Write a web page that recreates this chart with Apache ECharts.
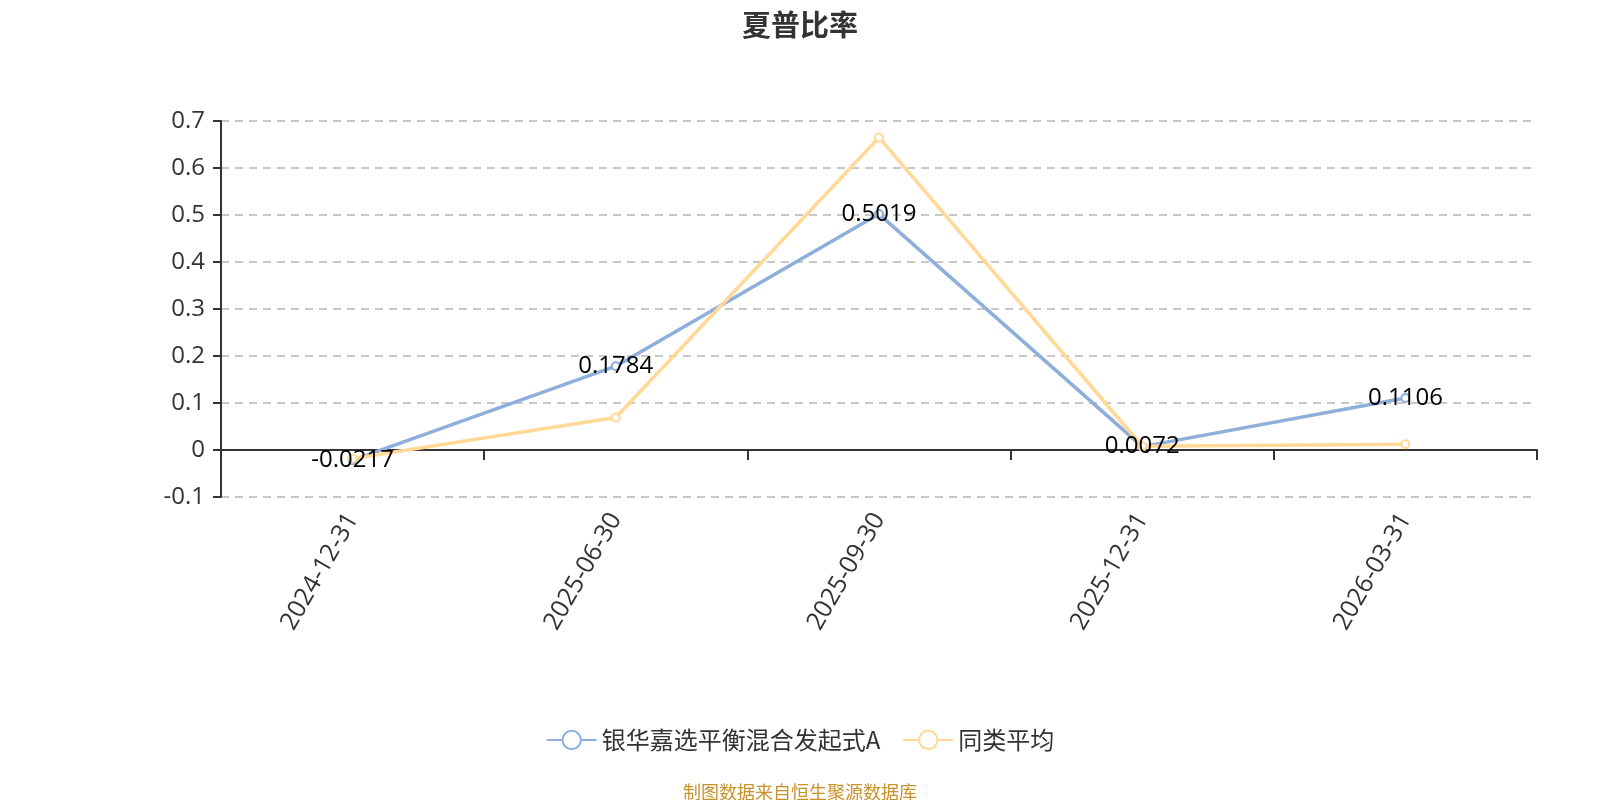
<!DOCTYPE html>
<html><head><meta charset="utf-8">
<script src="https://cdn.jsdelivr.net/npm/echarts@6/dist/echarts.min.js"></script>
<style>html,body{margin:0;padding:0;background:#fff}#c{width:1600px;height:800px}</style>
</head><body><div id="c"></div>
<script>
const categories = ['2024-12-31','2025-06-30','2025-09-30','2025-12-31','2026-03-31'];
const fundName = '银华嘉选平衡混合发起式A';
const avgName = '同类平均';
const fundValues = [-0.0217, 0.1784, 0.5019, 0.0072, 0.1106];
const avgValues = [-0.018, 0.069, 0.665, 0.008, 0.012];
const yTicks = {min: -0.1, max: 0.7, interval: 0.1};

const font = "'Open Sans','Noto Sans CJK SC',sans-serif";
const cjk = "'Noto Sans CJK SC',sans-serif";
const chart = echarts.init(document.getElementById('c'));
chart.setOption({
  animation: false,
  title: [{text: '夏普比率', left: 'center', top: 5, textStyle: {fontSize: 29, fontWeight: 'bold', color: '#333', fontFamily: cjk}},
          {text: '制图数据来自恒生聚源数据库', left: 'center', top: 778, textStyle: {fontSize: 18, fontWeight: 'normal', color: '#c8922a', fontFamily: cjk}}],
  legend: {top: 723, left: 'center', itemWidth: 50, itemHeight: 23, itemGap: 22,
    textStyle: {fontSize: 24, color: '#333', fontFamily: cjk},
    data: [fundName, avgName]},
  grid: {left: 221, right: 63, top: 121, bottom: 303, containLabel: false},
  xAxis: {type: 'category', data: categories, boundaryGap: true,
    axisLine: {onZero: true, lineStyle: {color: '#333', width: 2}},
    axisTick: {show: true, length: 10, lineStyle: {color: '#333', width: 2}},
    axisLabel: {rotate: 60, fontSize: 25, color: '#333', margin: 18, fontFamily: font}},
  yAxis: {type: 'value', min: yTicks.min, max: yTicks.max, interval: yTicks.interval,
    axisLine: {show: true, lineStyle: {color: '#333', width: 2}},
    axisTick: {show: true, length: 8, lineStyle: {color: '#333', width: 2}},
    axisLabel: {fontSize: 24, color: '#333', margin: 16, fontFamily: font,
      formatter: v => Number(v.toFixed(1)).toString()},
    splitLine: {show: true, lineStyle: {type: [8, 6], color: '#c8c8c8', width: 2}}},
  series: [
    {name: fundName, type: 'line', data: fundValues, symbol: 'emptyCircle', symbolSize: 8,
     lineStyle: {width: 3.5, color: '#8eaedb'}, itemStyle: {color: '#8eaedb'},
     label: {show: true, position: 'inside', fontSize: 24, color: '#000', fontFamily: font}},
    {name: avgName, type: 'line', data: avgValues, symbol: 'emptyCircle', symbolSize: 8,
     lineStyle: {width: 3.5, color: '#ffd995'}, itemStyle: {color: '#ffd995'}}
  ]
});
</script></body></html>
